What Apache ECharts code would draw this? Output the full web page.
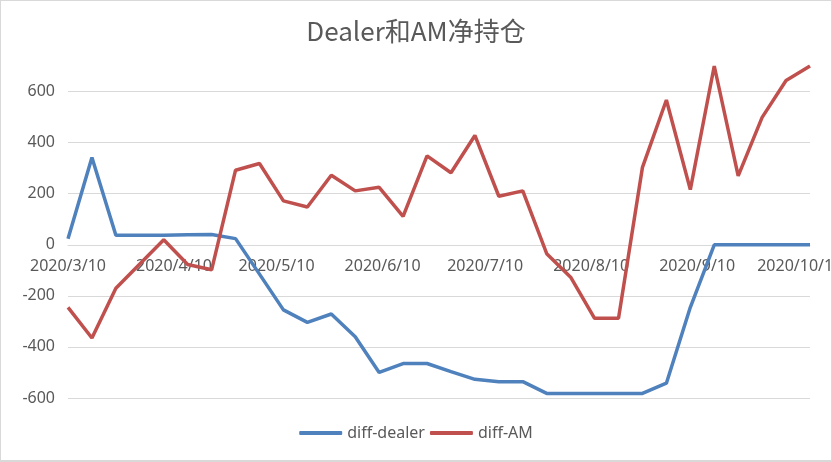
<!DOCTYPE html>
<html>
<head>
<meta charset="utf-8">
<script src="https://cdn.jsdelivr.net/npm/echarts@6/dist/echarts.min.js"></script>
<style>
html,body{margin:0;padding:0;background:#fff;}
#wrap{position:relative;width:832px;height:462px;}
#chart{width:832px;height:462px;}
#border{position:absolute;left:0;top:0;width:832px;height:462px;box-sizing:border-box;border:1px solid #d9d9d9;border-bottom-width:2px;pointer-events:none;}
</style>
</head>
<body>
<div id="wrap"><div id="chart"></div><div id="border"></div></div>
<script>
const dates = ['2020-03-10','2020-03-17','2020-03-24','2020-03-31','2020-04-07','2020-04-14','2020-04-21','2020-04-28',
  '2020-05-05','2020-05-12','2020-05-19','2020-05-26','2020-06-02','2020-06-09','2020-06-16','2020-06-23',
  '2020-06-30','2020-07-07','2020-07-14','2020-07-21','2020-07-28','2020-08-04','2020-08-11','2020-08-18',
  '2020-08-25','2020-09-01','2020-09-08','2020-09-15','2020-09-22','2020-09-29','2020-10-06','2020-10-13'];
const diffDealer = [24,342,37,37,37,39,40,24,-115,-255,-304,-271,-360,-500,-465,-465,
  -497,-527,-536,-536,-582,-582,-582,-582,-582,-542,-245,0,0,0,0,0];
const diffAM = [-245,-365,-170,-75,20,-77,-98,292,318,172,148,272,211,225,111,348,
  282,428,190,211,-35,-127,-288,-288,303,567,216,700,270,499,643,700];
const xTickDates = ['2020-03-10','2020-04-10','2020-05-10','2020-06-10','2020-07-10','2020-08-10','2020-09-10','2020-10-10'];
const xTickLabels = ['2020/3/10','2020/4/10','2020/5/10','2020/6/10','2020/7/10','2020/8/10','2020/9/10','2020/10/10'];
const yMin = -600, yMax = 700, yStep = 200;

const DAY = 86400000;
const toTs = s => { const p = s.split('-').map(Number); return Date.UTC(p[0], p[1]-1, p[2]); };
const t0 = toTs(dates[0]);
const toDay = s => Math.round((toTs(s) - t0) / DAY);
const tickDays = xTickDates.map(toDay);

const W = 832, H = 462;
const gridTop = 66, gridBottom = 64;
const plotH = H - gridTop - gridBottom;
const zeroOffset = -(0 - yMin) / (yMax - yMin) * plotH;

const chart = echarts.init(document.getElementById('chart'), null, {renderer:'canvas'});
const txt = '#595959';
chart.setOption({
  backgroundColor:'#ffffff',
  animation:false,
  title:{
    text:'Dealer和AM净持仓', left:'center', top:18, padding:0,
    textStyle:{fontFamily:'Noto Sans CJK SC', fontSize:26, fontWeight:'normal', color:txt}
  },
  legend:{
    bottom:16, left:'center', itemWidth:43, itemHeight:4, itemGap:5, icon:'roundRect',
    textStyle:{fontFamily:'Noto Sans', fontSize:16, color:txt}
  },
  grid:{left:68, right:22, top:gridTop, bottom:gridBottom, outerBoundsMode:'none', containLabel:false},
  xAxis:{
    type:'value', min:0, max:toDay(dates[dates.length-1]),
    offset:zeroOffset,
    axisLine:{onZero:false, lineStyle:{color:'#d9d9d9', width:1}},
    axisTick:{show:false},
    splitLine:{show:false},
    axisLabel:{
      customValues:tickDays,
      formatter:v => { const i = tickDays.indexOf(Math.round(v)); return i >= 0 ? xTickLabels[i] : ''; },
      margin:14, color:txt, fontFamily:'Noto Sans', fontSize:16, hideOverlap:false,
      alignMinLabel:'center', alignMaxLabel:'center'
    }
  },
  yAxis:{
    type:'value', min:yMin, max:yMax, interval:yStep,
    axisLine:{show:false, onZero:false}, axisTick:{show:false},
    splitLine:{show:true, showMaxLine:false, lineStyle:{color:'#d9d9d9', width:1}},
    axisLabel:{margin:13, color:txt, fontFamily:'Noto Sans', fontSize:16, showMaxLabel:false,
      formatter:v => v === yMax ? '' : String(v)}
  },
  series:[
    {name:'diff-dealer', type:'line', symbol:'none', data:dates.map((d,i)=>[toDay(d), diffDealer[i]]),
      lineStyle:{color:'#4F81BD', width:3.5}, itemStyle:{color:'#4F81BD'}},
    {name:'diff-AM', type:'line', symbol:'none', data:dates.map((d,i)=>[toDay(d), diffAM[i]]),
      lineStyle:{color:'#C0504D', width:3.5}, itemStyle:{color:'#C0504D'}}
  ]
});
</script>
</body>
</html>
